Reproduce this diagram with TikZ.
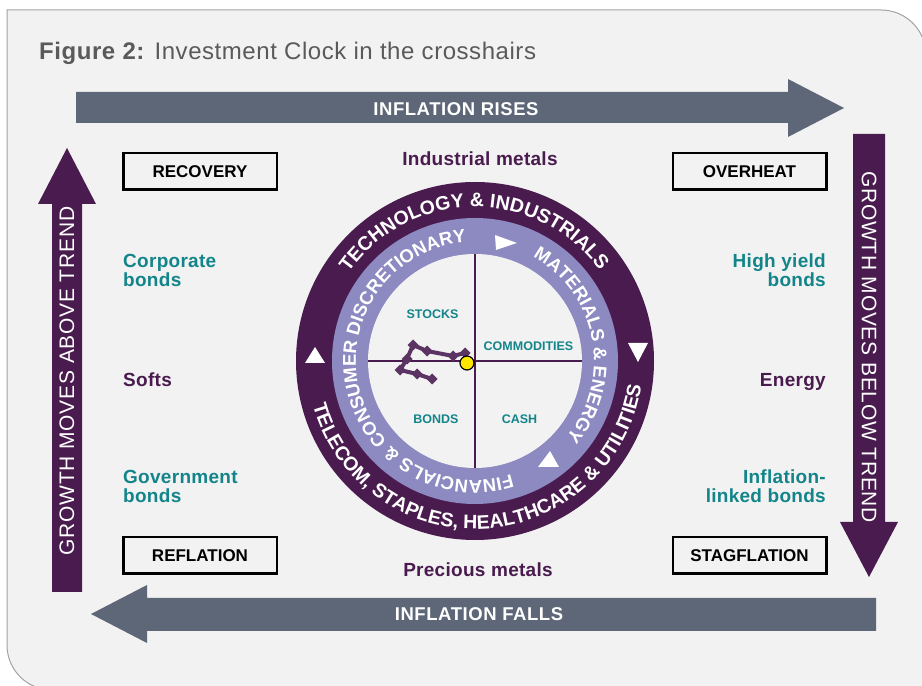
\documentclass[tikz,border=0pt]{standalone}
\usepackage{fontspec}
\setmainfont{Liberation Sans}
\newfontfamily\titlefont[LetterSpace=2.3]{Liberation Sans}
\newfontfamily\arrowfont[LetterSpace=3]{Liberation Sans}
\newfontfamily\growfont[LetterSpace=3.5]{Liberation Sans}
\newfontfamily\lblfont[LetterSpace=1.5]{Liberation Sans}
\usetikzlibrary{calc,decorations.text}

\definecolor{panelbg}{HTML}{F2F2F2}
\definecolor{panelline}{HTML}{A3A3A3}
\definecolor{titlegray}{HTML}{5A5A5A}
\definecolor{clockpurple}{HTML}{4A1B4E}
\definecolor{lavender}{HTML}{8D89C1}
\definecolor{arrowgray}{HTML}{5E6778}
\definecolor{assetteal}{HTML}{13858A}
\definecolor{pathpurple}{HTML}{5C3463}
\definecolor{dotyellow}{HTML}{FFE600}

\newcommand\outerringfont{\fontsize{19.5}{22}\selectfont\bfseries}
\newcommand\innerringfont{\fontsize{18.5}{22}\selectfont\bfseries}

\tikzset{
  phasebox/.style={draw=black, line width=2.5pt, fill=panelbg,
    minimum width=153.5pt, minimum height=36.5pt, inner sep=0pt,
    font=\fontsize{17}{20}\selectfont\bfseries},
  arrowlabel/.style={text=white, inner sep=0pt,
    font=\arrowfont\fontsize{18.5}{22}\selectfont\bfseries},
  growlabel/.style={text=white, inner sep=0pt,
    font=\growfont\fontsize{21}{24}\selectfont},
  bondlabel/.style={text=assetteal, inner sep=0pt,
    font=\lblfont\fontsize{19}{22}\selectfont\bfseries},
  commlabel/.style={text=clockpurple, inner sep=0pt,
    font=\lblfont\fontsize{19}{22}\selectfont\bfseries},
  quadlabel/.style={text=assetteal, inner sep=0pt,
    font=\fontsize{12.5}{14}\selectfont\bfseries},
  ringtext/.style={decorate, decoration={text along path, text align=center,
    text color=white}},
  marker/.style={fill=pathpurple},
}

\begin{document}
\begin{tikzpicture}[x=1pt,y=1pt]
\clip (0,0) rectangle (922,686);
\fill[white] (0,0) rectangle (922,686);

% panel
\filldraw[fill=panelbg, draw=panelline, line width=1pt]
  (7,676) -- (881,676) arc[start angle=90, end angle=0, radius=45]
  -- (926,-4) -- (52,-4) arc[start angle=270, end angle=180, radius=45] -- cycle;

% title
\node[anchor=base west, inner sep=0pt, text=titlegray,
      font=\titlefont\fontsize{24}{28}\selectfont] (title) at (39,626)
  {\textbf{Figure 2:} Investment Clock in the crosshairs};

% big arrows
\fill[arrowgray] (76,563) -- (788,563) -- (788,549) -- (844,578)
  -- (788,607) -- (788,594) -- (76,594) -- cycle;
\fill[arrowgray] (876,55) -- (147,55) -- (147,43) -- (91,72)
  -- (147,101) -- (147,88) -- (876,88) -- cycle;
\fill[clockpurple] (52,94) -- (52,482) -- (38,482) -- (67,538)
  -- (96,482) -- (82,482) -- (82,94) -- cycle;
\fill[clockpurple] (853,552) -- (853,164) -- (840,164) -- (869,109)
  -- (898,164) -- (885,164) -- (885,552) -- cycle;

\node[arrowlabel] (rises) at (456,577) {INFLATION RISES};
\node[arrowlabel] (falls) at (479,72) {INFLATION FALLS};
\node[growlabel, rotate=90] (above) at (67,305) {GROWTH MOVES ABOVE TREND};
\node[growlabel, rotate=-90] (below) at (869,339) {GROWTH MOVES BELOW TREND};

% phase boxes
\node[phasebox] (recovery) at (200,514.5) {RECOVERY};
\node[phasebox] (overheat) at (749.5,514.5) {OVERHEAT};
\node[phasebox] (reflation) at (200,130.5) {REFLATION};
\node[phasebox] (stagflation) at (749.5,130.5) {STAGFLATION};

% asset labels
\node[commlabel, anchor=base] (indmetals) at (480,520) {Industrial metals};
\node[commlabel, anchor=base] (precmetals) at (478,109) {Precious metals};
\node[bondlabel, anchor=base west] (corp1) at (123,418) {Corporate};
\node[bondlabel, anchor=base west] (corp2) at (123,399) {bonds};
\node[commlabel, anchor=base west] (softs) at (123,299) {Softs};
\node[bondlabel, anchor=base west] (gov1) at (123,202) {Government};
\node[bondlabel, anchor=base west] (gov2) at (123,183) {bonds};
\node[bondlabel, anchor=base east] (hy1) at (826,418) {High yield};
\node[bondlabel, anchor=base east] (hy2) at (826,399) {bonds};
\node[commlabel, anchor=base east] (energy) at (826,299) {Energy};
\node[bondlabel, anchor=base east] (il1) at (826,202) {Inflation-};
\node[bondlabel, anchor=base east] (il2) at (826,183) {linked bonds};

% the clock
\coordinate (c) at (475,325);
\fill[clockpurple] (c) circle (179);
\fill[lavender] (c) circle (143);
\fill[panelbg] (c) circle (107);
\draw[clockpurple, line width=2.5pt] ($(c)+(0,-107)$) -- ($(c)+(0,107)$);
\draw[clockpurple, line width=2.5pt] ($(c)+(-107,0)$) -- ($(c)+(107,0)$);

% sector names on the rings
\path[ringtext, decoration={text={|\outerringfont|TECHNOLOGY {\&} INDUSTRIALS}}]
  ($(c)+(180.5:154)$) arc[start angle=180.5, end angle=0.5, radius=154];
\path[ringtext, decoration={text={|\outerringfont|TELECOM, STAPLES, HEALTHCARE {\&} UTILITIES}}]
  ($(c)+(183.5:168)$) arc[start angle=183.5, end angle=363.5, radius=168];
\path[ringtext, decoration={text={|\innerringfont|FINANCIALS {\&} CONSUMER DISCRETIONARY}}]
  ($(c)+(301:119)$) arc[start angle=301, end angle=81, radius=119];
\path[ringtext, decoration={text={|\innerringfont|MATERIALS {\&} ENERGY}}]
  ($(c)+(70.5:119)$) arc[start angle=70.5, end angle=-49.5, radius=119];

% direction triangles
\fill[white] (305,323) -- (325,323) -- (315,339) -- cycle;
\fill[white] (628,343) -- (648,343) -- (638,324) -- cycle;
\fill[white] (495,451) -- (496,436) -- (517,443) -- cycle;
\fill[white] (538,219) -- (559,219) -- (550,235) -- cycle;

% quadrant assets
\node[quadlabel] (stocks) at (432.5,371.5) {STOCKS};
\node[quadlabel] (commod) at (528.5,339.5) {COMMODITIES};
\node[quadlabel] (bonds) at (436,266.5) {BONDS};
\node[quadlabel] (cash) at (519.5,266.5) {CASH};

% clock trail
\draw[pathpurple, line width=4pt, line join=round]
  (467,322) -- (465,333) -- (453,330) -- (427,335) -- (413,341)
  -- (407,327) -- (400,316) -- (417,312) -- (432,307);
\foreach \px/\py in {465/333,453/330,427/335,413/341,407/327,400/316,417/312,432/307}
  \fill[marker] (\px,\py) +(0,5.5) -- +(5.5,0) -- +(0,-5.5) -- +(-5.5,0) -- cycle;
\draw[fill=dotyellow, line width=1.2pt] (467,323) circle (7);
\end{tikzpicture}
\end{document}
